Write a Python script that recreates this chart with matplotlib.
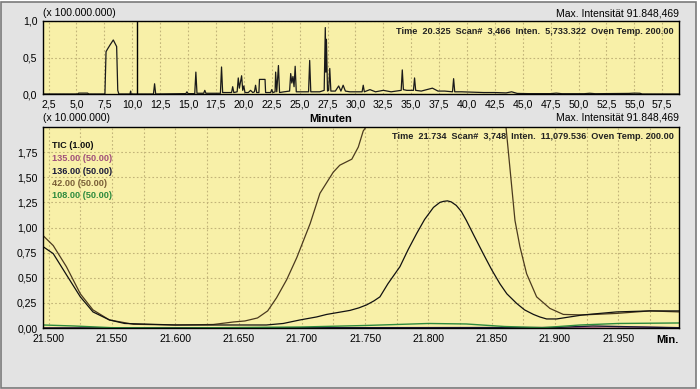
import matplotlib
matplotlib.use("Agg")
import matplotlib.pyplot as plt
from matplotlib.patches import Rectangle
from matplotlib.ticker import FixedLocator, FuncFormatter

# overview TIC (x 100.000.000), minutes
tic_time = [2.0, 5.1, 5.2, 6.0, 6.1, 7.55, 7.65, 7.8, 8.0, 8.3, 8.6, 8.7, 8.8,
            9.8, 9.85, 9.9, 11.9, 12.0, 12.1, 14.8, 14.9, 15.0, 15.6, 15.7, 15.8,
            16.4, 16.5, 16.6, 17.0, 17.9, 18.0, 18.1, 18.9, 19.0, 19.1, 19.4, 19.5,
            19.6, 19.8, 19.9, 20.0, 20.1, 20.4, 20.6, 20.8, 20.95, 21.05, 21.15,
            21.35, 21.4, 21.9, 21.95, 22.4, 22.5, 22.6, 22.8, 22.85, 22.95, 23.1,
            23.2, 23.6, 24.1, 24.2, 24.3, 24.4, 24.5, 24.6, 24.7, 25.2, 25.8, 25.9,
            26.0, 26.8, 27.2, 27.3, 27.35, 27.4, 27.5, 27.6, 27.7, 27.8, 28.2, 28.5,
            28.7, 28.9, 29.1, 29.5, 30.0, 30.6, 30.7, 30.8, 31.3, 31.8, 32.5, 33.2,
            34.1, 34.2, 34.3, 34.6, 35.2, 35.3, 35.4, 35.9, 36.4, 36.9, 37.4, 38.0,
            38.7, 38.8, 38.9, 39.5, 40.5, 41.5, 42.5, 43.5, 44.0, 44.5, 45.5, 47.5,
            48.0, 48.5, 50.5, 51.0, 51.5, 54.5, 55.0, 55.5, 55.7, 59.0]
tic_int = [0.0, 0.0, 0.012, 0.012, 0.0, 0.0, 0.58, 0.62, 0.67, 0.74, 0.65, 0.05, 0.0,
           0.0, 0.04, 0.0, 0.0, 0.14, 0.0, 0.005, 0.03, 0.005, 0.005, 0.30, 0.01,
           0.01, 0.05, 0.01, 0.01, 0.01, 0.37, 0.02, 0.02, 0.10, 0.02, 0.03, 0.22,
           0.08, 0.25, 0.05, 0.11, 0.02, 0.02, 0.05, 0.02, 0.03, 0.12, 0.02,
           0.02, 0.20, 0.20, 0.02, 0.02, 0.06, 0.02, 0.03, 0.30, 0.03, 0.39,
           0.02, 0.03, 0.04, 0.28, 0.15, 0.24, 0.10, 0.38, 0.03, 0.03, 0.03, 0.46,
           0.03, 0.03, 0.05, 0.91, 0.30, 0.75, 0.04, 0.05, 0.35, 0.04, 0.04, 0.11,
           0.04, 0.12, 0.04, 0.03, 0.03, 0.03, 0.12, 0.03, 0.06, 0.03, 0.05, 0.03,
           0.05, 0.33, 0.06, 0.05, 0.05, 0.22, 0.05, 0.04, 0.06, 0.08, 0.04, 0.04,
           0.03, 0.21, 0.03, 0.03, 0.025, 0.02, 0.02, 0.015, 0.03, 0.008, 0.005, 0.005,
           0.012, 0.004, 0.004, 0.01, 0.004, 0.008, 0.012, 0.01, 0.0, 0.0]
cursor_time = 10.4

# zoomed chromatograms (x 10.000.000), minutes
m42_time = [21.4955, 21.5036, 21.514, 21.525, 21.535, 21.548, 21.567, 21.60, 21.63,
            21.646, 21.655, 21.665, 21.673, 21.680, 21.688, 21.696, 21.7066, 21.7143,
            21.7248, 21.730, 21.7395, 21.7446, 21.7485, 21.7507, 21.756, 21.80, 21.856,
            21.8613, 21.8684, 21.8723, 21.8776, 21.8855, 21.896, 21.9066, 21.922,
            21.9486, 21.975, 21.998]
m42_int = [0.92, 0.82, 0.61, 0.34, 0.18, 0.08, 0.037, 0.03, 0.035,
           0.06, 0.07, 0.10, 0.17, 0.30, 0.48, 0.70, 1.04, 1.34,
           1.55, 1.62, 1.68, 1.80, 1.96, 2.0, 2.3, 6.0, 2.3,
           2.0, 1.07, 0.81, 0.54, 0.31, 0.195, 0.135, 0.13,
           0.145, 0.17, 0.16]

tic_z_time = [21.4955, 21.5036, 21.514, 21.525, 21.535, 21.548, 21.56, 21.60, 21.65,
              21.672, 21.6853, 21.6985, 21.7117, 21.7196, 21.738, 21.745, 21.7512,
              21.757, 21.7617, 21.768, 21.7775, 21.784, 21.7907, 21.797, 21.804,
              21.8091, 21.812, 21.815, 21.818, 21.822, 21.826, 21.83, 21.836, 21.8433,
              21.85, 21.8565, 21.862, 21.8697, 21.876, 21.883, 21.888, 21.8934, 21.9013,
              21.922, 21.9486, 21.975, 21.998]
tic_z_int = [0.81, 0.74, 0.53, 0.31, 0.16, 0.08, 0.045, 0.03, 0.03,
             0.03, 0.045, 0.08, 0.11, 0.135, 0.175, 0.20, 0.23,
             0.27, 0.31, 0.44, 0.61, 0.78, 0.94, 1.08, 1.20,
             1.25, 1.26, 1.265, 1.255, 1.22, 1.16, 1.07, 0.92, 0.74,
             0.58, 0.44, 0.34, 0.245, 0.18, 0.135, 0.11, 0.09, 0.09,
             0.13, 0.16, 0.17, 0.17]

m108_time = [21.4955, 21.52, 21.55, 21.60, 21.70, 21.75, 21.80, 21.83, 21.86, 21.89,
             21.92, 21.95, 21.998]
m108_int = [0.03, 0.02, 0.003, 0.0, 0.01, 0.025, 0.045, 0.04, 0.015, 0.003,
            0.03, 0.045, 0.05]

m136_time = [21.4955, 21.90, 21.93, 21.96, 21.998]
m136_int = [0.0, 0.005, 0.02, 0.012, 0.003]

m135_time = [21.4955, 21.91, 21.94, 21.97, 21.998]
m135_int = [0.0, 0.0, 0.01, 0.008, 0.0]

legend_labels = ["TIC (1.00)", "135.00 (50.00)", "136.00 (50.00)", "42.00 (50.00)", "108.00 (50.00)"]
legend_colors = ["#111111", "#a0507a", "#1a1a3a", "#7a6038", "#2e8b3e"]

top_xticks = [2.5 * i for i in range(1, 24)]
top_yticks = [0.0, 0.5, 1.0]
bot_xticks = [21.50, 21.55, 21.60, 21.65, 21.70, 21.75, 21.80, 21.85, 21.90, 21.95]
bot_xgrid = [21.50 + 0.025 * i for i in range(20)]
bot_yticks = [0.0, 0.25, 0.5, 0.75, 1.0, 1.25, 1.5, 1.75]

W, H = 700, 389
BG = "#e3e3e3"
PLOT_BG = "#f8f0a8"
GRID = "#c2b479"
FONT = "Liberation Sans"

fig = plt.figure(figsize=(W / 100, H / 100), dpi=100, facecolor="white")
fig.patches.append(Rectangle((1 / W, 1 / H), 695 / W, 386 / H, transform=fig.transFigure,
                             facecolor=BG, edgecolor="#7a7a7a", linewidth=1.2, zorder=-10))


def box(left, top, right, bottom):
    return [left / W, 1 - bottom / H, (right - left) / W, (bottom - top) / H]


def style(ax):
    ax.set_facecolor(PLOT_BG)
    for s in ax.spines.values():
        s.set_color("black")
        s.set_linewidth(1.0)
    ax.tick_params(length=0, labelsize=7.6, pad=4)
    for lab in ax.get_xticklabels() + ax.get_yticklabels():
        lab.set_fontfamily(FONT)


comma = lambda fmt: FuncFormatter(lambda v, p: (fmt % v).replace(".", ","))

# top overview
ax1 = fig.add_axes(box(43, 21, 679, 94))
ax1.plot(tic_time, tic_int, color="#1a1a1a", lw=0.9)
ax1.axvline(cursor_time, color="black", lw=1.0)
ax1.set_xlim(2.0, 59.0)
ax1.set_ylim(0, 1.0)
ax1.xaxis.set_major_locator(FixedLocator(top_xticks))
ax1.yaxis.set_major_locator(FixedLocator(top_yticks))
ax1.xaxis.set_major_formatter(comma("%.1f"))
ax1.yaxis.set_major_formatter(comma("%.1f"))
ax1.grid(True, linestyle=(0, (1.5, 2)), color=GRID, lw=0.8)
ax1.set_axisbelow(True)
style(ax1)
ax1.text(0.992, 0.92, "Time  20.325  Scan#  3,466  Inten.  5,733.322  Oven Temp. 200.00",
         transform=ax1.transAxes, ha="right", va="top", fontsize=6.6, family=FONT,
         fontweight="bold", color="#222222")

# bottom zoom
ax2 = fig.add_axes(box(43, 127, 679, 328))
ax2.plot(m135_time, m135_int, color="#c07090", lw=1.0)
ax2.plot(m136_time, m136_int, color="#1a1a3a", lw=1.0)
ax2.plot(m108_time, m108_int, color="#2e8b3e", lw=1.0)
ax2.plot(m42_time, m42_int, color="#4b3a1e", lw=0.9)
ax2.plot(tic_z_time, tic_z_int, color="#111111", lw=0.9)
ax2.set_xlim(21.4955, 21.998)
ax2.set_ylim(0, 2.0)
ax2.xaxis.set_major_locator(FixedLocator(bot_xticks))
ax2.xaxis.set_minor_locator(FixedLocator(bot_xgrid))
ax2.yaxis.set_major_locator(FixedLocator(bot_yticks))
ax2.xaxis.set_major_formatter(FuncFormatter(lambda v, p: "%.3f" % v))
ax2.yaxis.set_major_formatter(comma("%.2f"))
ax2.grid(True, which="both", axis="x", linestyle=(0, (1.5, 2)), color=GRID, lw=0.8)
ax2.grid(True, which="major", axis="y", linestyle=(0, (1.5, 2)), color=GRID, lw=0.8)
ax2.tick_params(which="minor", length=0)
ax2.set_axisbelow(True)
style(ax2)
ax2.text(0.992, 0.975, "Time  21.734  Scan#  3,748  Inten.  11,079.536  Oven Temp. 200.00",
         transform=ax2.transAxes, ha="right", va="top", fontsize=6.6, family=FONT,
         fontweight="bold", color="#222222")

for i, (lab, col) in enumerate(zip(legend_labels, legend_colors)):
    fig.text(52 / W, 1 - (146 + 12.5 * i) / H, lab, color=col, fontsize=6.6, family=FONT,
             fontweight="bold", ha="left", va="center")

# header texts
fig.text(43 / W, 1 - 13 / H, "(x 100.000.000)", fontsize=7.5, family=FONT, va="center")
fig.text(679 / W, 1 - 13 / H, "Max. Intensität 91.848,469", fontsize=7.5, family=FONT,
         ha="right", va="center")
fig.text(43 / W, 1 - 118 / H, "(x 10.000.000)", fontsize=7.5, family=FONT, va="center")
fig.text(679 / W, 1 - 118 / H, "Max. Intensität 91.848,469", fontsize=7.5, family=FONT,
         ha="right", va="center")
fig.text(331 / W, 1 - 119 / H, "Minuten", fontsize=8, family=FONT, fontweight="bold",
         ha="center", va="center")
fig.text(679 / W, 1 - 340 / H, "Min.", fontsize=8, family=FONT, fontweight="bold",
         ha="right", va="center")

fig.savefig("out.png", dpi=100, facecolor=fig.get_facecolor())
